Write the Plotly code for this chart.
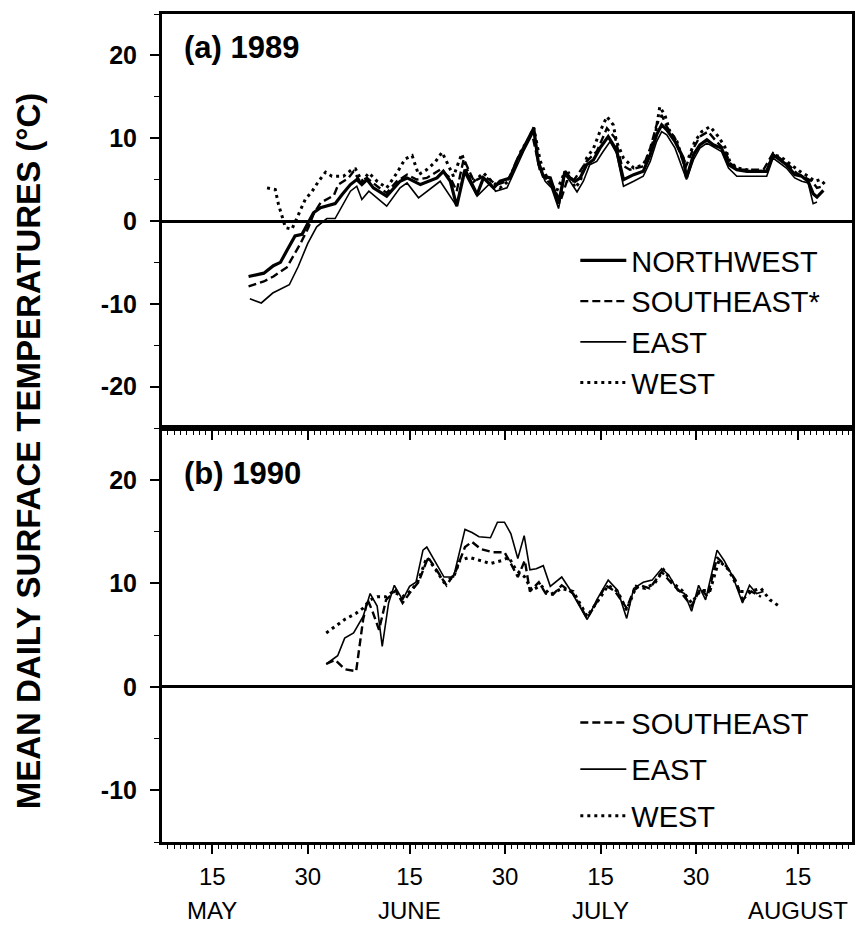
import plotly.graph_objects as go

# ---- x = day number counted from 1 May (May d -> d, June d -> 31+d, July d -> 61+d, Aug d -> 92+d)
tick_days = [15, 30, 46, 61, 76, 91, 107]
tick_text = ["15", "30", "15", "30", "15", "30", "15"]
month_days = [15, 46, 76, 107]
month_names = ["MAY", "JUNE", "JULY", "AUGUST"]
ya_ticks = [-20, -10, 0, 10, 20]
ya_text = ["-20", "-10", "0", "10", "20"]
yb_ticks = [-10, 0, 10, 20]
yb_text = ["-10", "0", "10", "20"]

# ---- (a) 1989
nw89_day = [20.7, 23.1, 24.6, 25.7, 26.7, 28.0, 29.1, 29.9, 30.9, 32.0, 34.3, 35.4, 36.7, 37.7, 38.5, 39.3,
            40.3, 42.4, 44.5, 45.6, 47.7, 50.3, 51.3, 52.4, 53.4, 54.7, 56.6, 57.6, 59.2, 60.2, 61.8, 62.8,
            63.9, 65.5, 66.2, 67.0, 68.1, 69.4, 70.4, 71.2, 72.0, 72.8, 73.8, 74.9, 75.9, 77.2, 78.5, 79.6,
            81.2, 82.7, 83.8, 84.8, 85.6, 86.4, 87.7, 89.0, 89.5, 90.6, 91.6, 92.7, 93.7, 95.0, 96.1, 97.4,
            99.0, 100.5, 102.1, 103.1, 104.2, 105.2, 106.5, 107.6, 108.6, 109.4, 110.0, 111.0]
nw89_val = [-6.7, -6.3, -5.4, -5.0, -3.6, -1.8, -1.6, -0.4, 1.0, 1.6, 2.1, 3.2, 4.4, 5.0, 4.4, 5.0,
            4.0, 3.0, 4.8, 5.2, 4.4, 5.2, 6.0, 4.8, 1.8, 6.2, 3.2, 5.2, 4.0, 4.8, 5.2, 7.2,
            8.8, 11.2, 7.2, 5.4, 5.2, 2.1, 6.0, 5.2, 4.8, 5.2, 6.8, 7.4, 8.8, 10.2, 8.6, 5.0,
            5.6, 6.0, 8.0, 10.4, 11.6, 11.0, 9.6, 7.6, 5.2, 8.0, 9.2, 9.8, 9.2, 8.8, 6.8, 6.2,
            6.0, 6.0, 6.0, 8.0, 7.4, 6.8, 5.6, 5.4, 4.8, 3.3, 2.9, 3.7]

se89_day = [20.7, 23.1, 24.6, 26.7, 28.8, 30.1, 30.9, 32.0, 34.1, 34.8, 36.4, 37.2, 38.2, 39.3, 40.9, 42.4,
            44.0, 45.6, 47.1, 48.7, 50.8, 52.4, 53.4, 54.5, 56.1, 57.7, 59.7, 61.3, 63.4, 65.2, 66.5, 68.6,
            69.7, 70.7, 71.7, 73.8, 75.4, 77.0, 78.3, 79.3, 80.6, 82.7, 83.8, 84.8, 85.6, 86.4, 87.7, 89.3,
            90.6, 91.6, 92.9, 94.2, 95.5, 96.3, 97.6, 99.5, 101.6, 103.1, 104.2, 105.5, 106.8, 108.1, 109.2,
            110.0, 111.0]
se89_val = [-7.9, -7.3, -6.7, -5.6, -2.8, -0.8, 0.8, 2.2, 3.1, 4.4, 5.2, 6.0, 4.8, 5.2, 4.2, 3.4,
            4.8, 5.6, 5.0, 5.2, 6.2, 5.2, 3.6, 7.5, 4.8, 5.4, 4.4, 4.8, 7.9, 10.7, 6.0, 4.0,
            2.4, 4.8, 4.8, 7.2, 8.4, 11.2, 10.0, 6.8, 6.2, 6.6, 8.8, 11.6, 12.8, 11.4, 10.0, 6.4,
            8.8, 10.2, 10.8, 9.6, 8.6, 7.0, 6.2, 6.2, 6.2, 8.2, 7.6, 6.8, 5.8, 5.2, 4.8,
            4.0, 4.2]

ea89_day = [20.9, 22.7, 24.5, 27.1, 28.5, 30.0, 31.4, 33.0, 34.3, 35.6, 36.7, 37.7, 38.5, 39.6, 41.4, 42.4,
            44.5, 45.6, 47.4, 49.2, 50.8, 53.4, 54.5, 56.6, 58.7, 59.5, 61.3, 63.9, 65.5, 66.2, 67.3, 68.3,
            69.4, 70.4, 71.2, 72.3, 73.3, 74.3, 75.4, 76.4, 77.5, 78.5, 79.6, 81.2, 82.7, 83.8, 84.8, 85.6,
            86.4, 87.7, 89.5, 90.6, 91.6, 92.7, 93.7, 95.0, 96.1, 97.4, 99.0, 100.5, 102.1, 103.1, 104.2,
            105.2, 106.5, 107.6, 108.6, 109.4, 110.0]
ea89_val = [-9.4, -9.9, -8.7, -7.7, -5.5, -2.7, -0.7, 0.3, 0.3, 2.0, 3.6, 4.2, 2.6, 3.6, 2.4, 1.8,
            4.0, 4.6, 2.8, 3.8, 4.8, 1.8, 6.0, 3.0, 4.6, 3.6, 4.0, 8.4, 10.8, 6.8, 4.8, 4.0,
            1.5, 5.6, 4.8, 3.5, 4.8, 6.8, 7.2, 8.4, 9.6, 8.2, 4.2, 4.8, 5.4, 7.2, 9.6, 10.8,
            10.4, 8.8, 5.0, 7.4, 8.8, 9.4, 9.0, 8.4, 6.4, 5.4, 5.4, 5.4, 5.4, 7.6, 7.0,
            6.4, 5.2, 4.8, 4.6, 2.1, 2.3]

we89_day = [23.6, 24.9, 25.4, 25.9, 26.5, 27.5, 28.6, 29.6, 30.7, 31.7, 32.8, 33.8, 35.6, 36.9, 37.5, 38.5,
            39.6, 40.9, 42.4, 44.0, 45.3, 46.4, 47.4, 48.7, 50.0, 51.1, 52.1, 52.9, 53.7, 54.2, 55.0, 56.1,
            57.6, 58.9, 60.2, 61.5, 62.6, 63.6, 64.7, 65.5, 66.5, 67.8, 69.1, 70.2, 71.0, 72.0, 72.8, 73.8,
            74.9, 75.9, 77.0, 78.0, 78.5, 79.6, 81.2, 82.7, 83.8, 84.6, 85.3, 86.1, 86.9, 88.0, 89.0, 89.8,
            90.8, 91.9, 93.2, 94.5, 95.5, 96.3, 97.4, 99.0, 100.5, 102.1, 103.1, 104.2, 105.2, 106.5, 107.3,
            108.6, 109.7, 110.5, 111.3]
we89_val = [4.0, 3.8, 2.0, 0.6, -0.8, -1.0, 0.8, 2.6, 3.6, 4.8, 5.9, 5.4, 5.4, 6.2, 6.3, 4.8,
            5.8, 4.8, 4.0, 5.8, 7.5, 7.9, 5.6, 6.2, 7.1, 8.3, 6.7, 5.4, 7.1, 8.1, 6.2, 4.8,
            5.8, 4.8, 4.0, 4.8, 6.8, 8.6, 9.9, 11.3, 7.3, 4.8, 3.6, 5.6, 5.8, 4.0, 4.8, 7.6,
            8.8, 10.8, 12.6, 11.6, 9.6, 7.6, 6.4, 6.8, 8.4, 10.4, 13.8, 12.8, 10.8, 9.6, 7.2, 7.6,
            9.6, 10.8, 11.4, 10.2, 9.0, 7.2, 6.4, 6.2, 6.0, 6.0, 8.0, 7.8, 7.2, 6.4, 6.0,
            5.4, 4.8, 5.0, 4.4]

# ---- (b) 1990
se90_day = [32.9, 34.3, 35.8, 37.6, 38.7, 39.4, 40.1, 41.2, 42.3, 43.8, 44.9, 46.3, 47.4, 48.9, 49.9, 51.8,
            53.2, 54.7, 55.8, 57.2, 59.0, 60.9, 61.9, 63.0, 64.1, 64.9, 66.3, 67.4, 68.5, 69.9, 71.7, 73.9,
            75.7, 76.8, 78.3, 80.1, 81.2, 82.3, 83.7, 85.6, 87.0, 88.5, 90.3, 91.7, 92.8, 94.3, 95.8, 97.2,
            98.3, 99.7, 101.2]
se90_val = [2.2, 2.6, 1.7, 1.5, 6.5, 8.4, 7.4, 5.5, 8.4, 9.3, 8.1, 9.3, 10.1, 12.5, 11.6, 9.8,
            11.1, 13.5, 14.0, 13.3, 13.0, 13.0, 11.9, 10.6, 12.2, 9.2, 10.1, 9.0, 8.9, 9.8, 9.0, 6.6,
            8.5, 9.8, 9.2, 7.6, 9.3, 9.8, 9.5, 11.1, 10.1, 9.2, 7.8, 9.5, 8.7, 12.5, 11.6, 10.3,
            8.4, 9.2, 8.7]

ea90_day = [32.9, 34.7, 35.8, 37.2, 38.7, 39.8, 40.9, 41.7, 42.7, 43.6, 44.9, 46.0, 47.0, 48.1, 48.7, 49.9,
            51.4, 52.9, 54.7, 55.8, 56.9, 58.7, 59.8, 60.9, 61.9, 63.0, 64.0, 64.9, 65.9, 67.0, 68.1, 69.9,
            71.4, 73.9, 75.4, 77.2, 78.7, 80.1, 81.2, 82.7, 84.1, 85.6, 86.7, 88.1, 89.2, 90.3, 91.4, 92.5,
            94.3, 95.4, 96.8, 98.3, 99.4, 100.5, 101.6]
ea90_val = [2.2, 3.0, 4.7, 5.2, 6.8, 9.0, 7.8, 3.9, 8.1, 9.8, 8.4, 9.7, 10.1, 13.2, 13.5, 12.2,
            10.6, 10.6, 15.2, 14.9, 14.5, 14.4, 15.9, 15.9, 14.8, 12.4, 14.6, 11.3, 11.4, 11.7, 9.7, 10.6,
            9.2, 6.5, 8.4, 10.3, 9.3, 6.6, 9.5, 10.1, 10.3, 11.4, 10.8, 9.3, 9.0, 7.3, 9.8, 8.4,
            13.2, 12.2, 10.6, 8.1, 9.8, 9.0, 9.2]

we90_day = [32.9, 34.3, 35.8, 37.6, 38.7, 39.8, 40.9, 42.3, 43.4, 44.9, 46.3, 47.4, 48.7, 49.9, 51.4, 52.9,
            53.9, 55.4, 56.9, 58.7, 60.5, 61.6, 62.7, 64.1, 65.2, 66.6, 68.1, 69.9, 71.7, 73.9, 75.7, 77.2,
            78.7, 80.1, 81.6, 83.0, 84.5, 85.9, 87.4, 88.8, 90.3, 91.7, 93.2, 94.6, 96.1, 97.9, 99.4, 101.2,
            102.6, 104.0]
we90_val = [5.2, 5.8, 6.5, 7.1, 7.6, 8.4, 8.7, 8.7, 9.2, 8.7, 9.3, 10.3, 12.5, 11.5, 10.1, 10.6,
            12.2, 12.5, 12.2, 11.9, 12.2, 12.5, 11.3, 10.6, 9.3, 9.8, 8.9, 9.5, 9.2, 6.8, 8.4, 9.8,
            9.2, 7.4, 9.7, 9.5, 10.0, 11.3, 10.0, 9.3, 8.1, 9.3, 9.3, 12.2, 11.3, 9.2, 9.2, 9.5,
            8.4, 7.8]

FONT = "Liberation Sans Narrow, Liberation Sans, Arial, sans-serif"
BLACK = "#000000"

NW = dict(color=BLACK, width=3.2)
SE = dict(color=BLACK, width=2.4, dash="8px,4px")
EA = dict(color=BLACK, width=1.6)
WE = dict(color=BLACK, width=3.0, dash="3px,4px")

fig = go.Figure()
# panel (a)
fig.add_trace(go.Scatter(x=nw89_day, y=nw89_val, mode="lines", line=NW, name="NORTHWEST",
                         xaxis="x", yaxis="y", legend="legend", legendgroup="a1"))
fig.add_trace(go.Scatter(x=se89_day, y=se89_val, mode="lines", line=SE, name="SOUTHEAST*",
                         xaxis="x", yaxis="y", legend="legend", legendgroup="a2"))
fig.add_trace(go.Scatter(x=ea89_day, y=ea89_val, mode="lines", line=EA, name="EAST",
                         xaxis="x", yaxis="y", legend="legend", legendgroup="a3"))
fig.add_trace(go.Scatter(x=we89_day, y=we89_val, mode="lines", line=WE, name="WEST",
                         xaxis="x", yaxis="y", legend="legend", legendgroup="a4"))
# panel (b)
fig.add_trace(go.Scatter(x=se90_day, y=se90_val, mode="lines", line=SE, name="SOUTHEAST",
                         xaxis="x2", yaxis="y2", legend="legend2", legendgroup="b1"))
fig.add_trace(go.Scatter(x=ea90_day, y=ea90_val, mode="lines", line=EA, name="EAST",
                         xaxis="x2", yaxis="y2", legend="legend2", legendgroup="b2"))
fig.add_trace(go.Scatter(x=we90_day, y=we90_val, mode="lines", line=WE, name="WEST",
                         xaxis="x2", yaxis="y2", legend="legend2", legendgroup="b3"))

xcommon = dict(range=[7.1, 115.5], showgrid=False, zeroline=False, showline=True, linecolor=BLACK,
               linewidth=2.5, mirror=True, ticks="outside", ticklen=9, tickwidth=1.5, tickcolor=BLACK,
               tickmode="array", tickvals=tick_days, ticktext=tick_text,
               minor=dict(ticks="outside", ticklen=4, tickwidth=1, tickcolor=BLACK, dtick=1, tick0=0,
                          showgrid=False))
ycommon = dict(showgrid=False, zeroline=True, zerolinecolor=BLACK, zerolinewidth=2.5, showline=True,
               linecolor=BLACK, linewidth=3, mirror=True, ticks="outside", ticklen=9, tickwidth=1.5,
               tickcolor=BLACK, tickmode="array", ticklabelstandoff=8,
               tickfont=dict(family=FONT, size=25, color=BLACK, weight="bold"),
               minor=dict(ticks="outside", ticklen=5, tickwidth=1, tickcolor=BLACK, dtick=5, tick0=0,
                          showgrid=False))

fig.update_layout(
    width=866, height=930,
    margin=dict(l=162, r=14, t=11, b=88),
    paper_bgcolor="white", plot_bgcolor="white",
    showlegend=True,
    xaxis=dict(domain=[0, 1], anchor="y", showticklabels=False, **xcommon),
    yaxis=dict(domain=[0.5, 1], anchor="x", range=[-25, 25], tickvals=ya_ticks, ticktext=ya_text,
               **ycommon),
    xaxis2=dict(domain=[0, 1], anchor="y2", showticklabels=True, ticklabelstandoff=2,
                tickfont=dict(family=FONT, size=24, color=BLACK), **xcommon),
    yaxis2=dict(domain=[0, 0.5], anchor="x2", range=[-15, 25], tickvals=yb_ticks, ticktext=yb_text,
                **ycommon),
    legend=dict(x=0.599, y=0.733, xanchor="left", yanchor="top", bgcolor="rgba(0,0,0,0)",
                font=dict(family=FONT, size=29, color=BLACK), itemwidth=46, tracegroupgap=0,
                traceorder="grouped"),
    legend2=dict(x=0.599, y=0.175, xanchor="left", yanchor="top", bgcolor="rgba(0,0,0,0)",
                 font=dict(family=FONT, size=29, color=BLACK), itemwidth=46, tracegroupgap=6,
                 traceorder="grouped"),
)

annotations = [
    dict(text="(a) 1989", x=0.029, y=0.959, xref="paper", yref="paper", xanchor="left", yanchor="middle",
         showarrow=False, font=dict(family=FONT, size=31, color=BLACK, weight="bold")),
    dict(text="(b) 1990", x=0.029, y=0.445, xref="paper", yref="paper", xanchor="left", yanchor="middle",
         showarrow=False, font=dict(family=FONT, size=31, color=BLACK, weight="bold")),
    dict(text="MEAN DAILY SURFACE TEMPERATURES (°C)", x=-0.194, y=0.472, xref="paper", yref="paper",
         xanchor="center", yanchor="middle", textangle=-90, showarrow=False,
         font=dict(family=FONT, size=33, color=BLACK, weight="bold")),
]
for d, m in zip(month_days, month_names):
    annotations.append(dict(text=m, x=d, y=-0.083, xref="x2", yref="paper", xanchor="center",
                            yanchor="middle", showarrow=False,
                            font=dict(family=FONT, size=24, color=BLACK)))
fig.update_layout(annotations=annotations)

fig.write_html("out.html")
